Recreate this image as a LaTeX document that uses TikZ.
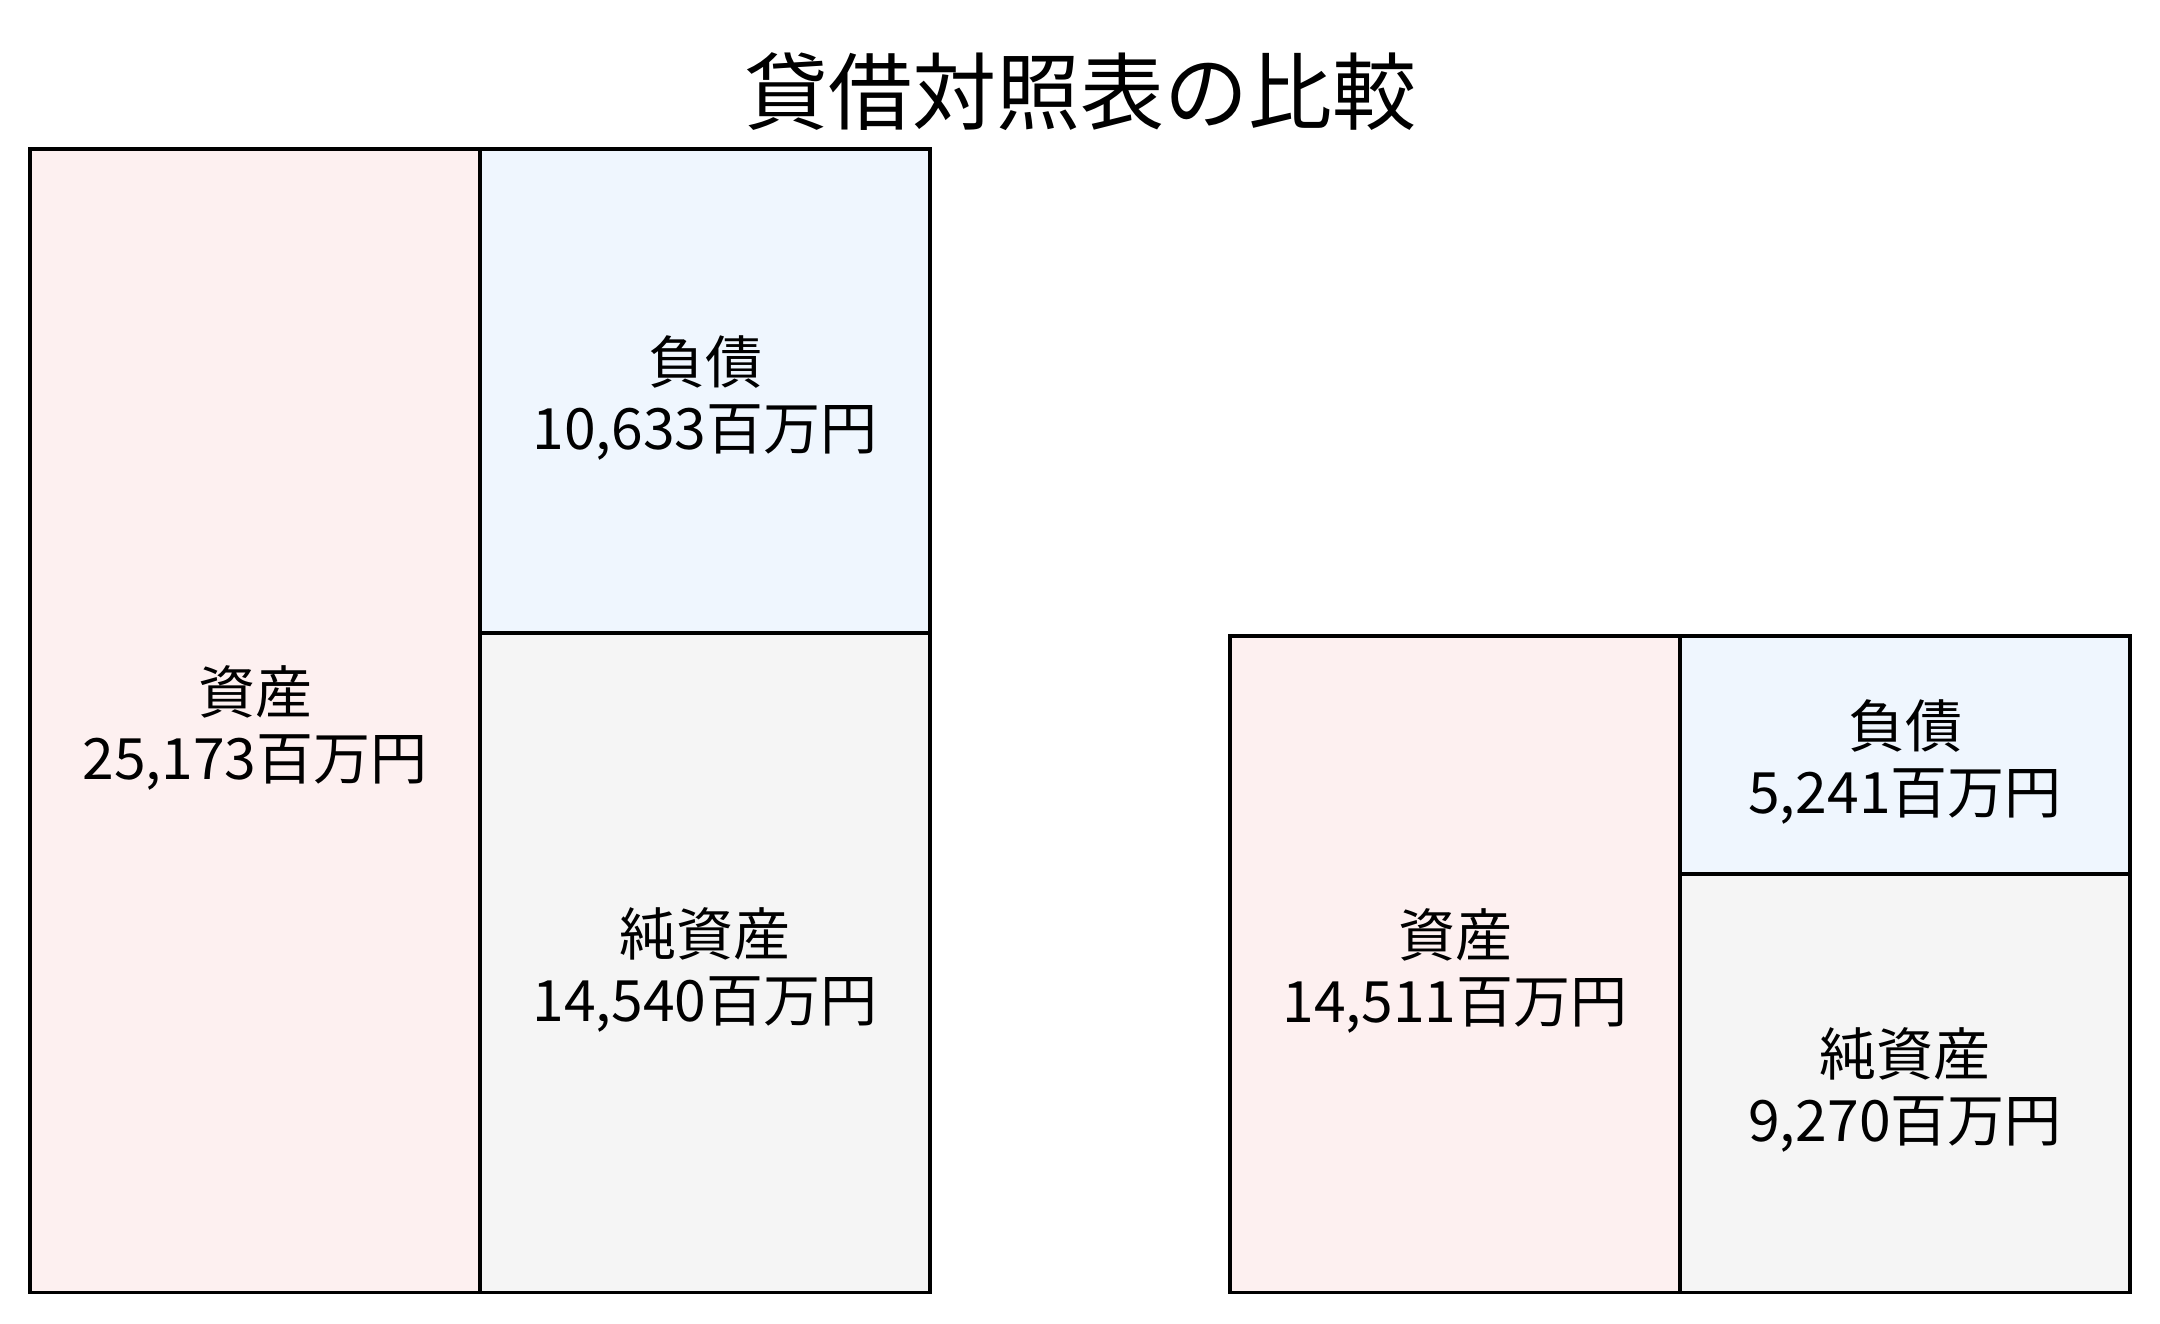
\documentclass[tikz,border=0pt]{standalone}
\usepackage{fontspec}
\setmainfont{Noto Sans CJK JP}
\definecolor{assetpink}{RGB}{253,240,240}
\definecolor{liabblue}{RGB}{239,246,254}
\definecolor{netgray}{RGB}{245,245,245}
\begin{document}
\begin{tikzpicture}[x=1pt,y=-1pt,
  box/.style={draw=black,line width=3.4pt,minimum width=450pt,inner sep=0pt,outer sep=0pt},
  asset/.style={box,fill=assetpink},
  liab/.style={box,fill=liabblue},
  net/.style={box,fill=netgray},
  boxtext/.style={align=center,inner sep=0pt,font=\fontsize{57}{66}\selectfont},
  titlestyle/.style={font=\fontsize{84}{84}\selectfont,inner sep=0pt}]
\useasboundingbox (0,0) rectangle (2160,1324);
\fill[white] (0,0) rectangle (2160,1324);
\node[titlestyle] (title) at (1080,92) {貸借対照表の比較};
% left balance sheet
\node[asset,minimum height=1143.5pt] (la) at (255,720.75) {};
\node[liab,minimum height=484pt] (ll) at (705,391) {};
\node[net,minimum height=659.5pt] (ln) at (705,962.75) {};
% right balance sheet
\node[asset,minimum height=656.5pt] (ra) at (1455,964.25) {};
\node[liab,minimum height=238pt] (rl) at (1905,755) {};
\node[net,minimum height=418.5pt] (rn) at (1905,1083.25) {};
% labels
\node[boxtext] (lat) at ([yshift=-7pt]la.center) {資産\\25,173百万円};
\node[boxtext] (llt) at ([yshift=-7pt]ll.center) {負債\\10,633百万円};
\node[boxtext] (lnt) at ([yshift=-7pt]ln.center) {純資産\\14,540百万円};
\node[boxtext] (rat) at ([yshift=-7pt]ra.center) {資産\\14,511百万円};
\node[boxtext] (rlt) at ([yshift=-7pt]rl.center) {負債\\5,241百万円};
\node[boxtext] (rnt) at ([yshift=-7pt]rn.center) {純資産\\9,270百万円};
\end{tikzpicture}
\end{document}
